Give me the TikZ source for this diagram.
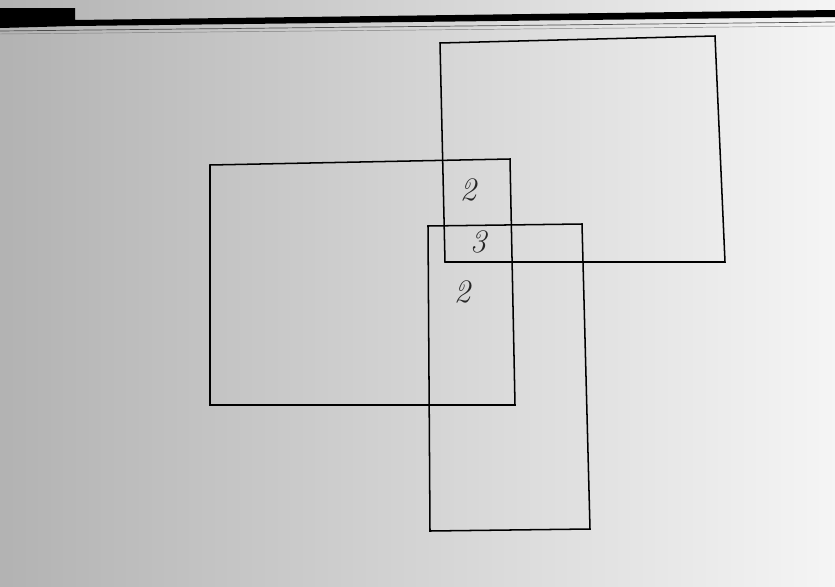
\documentclass[tikz,border=0pt]{standalone}
\usepackage{tikz}
\usetikzlibrary{positioning}

\begin{document}
\begin{tikzpicture}[
    x=0.03cm, y=-0.03cm,
    frame/.style={draw=black, line width=1.3pt, line join=miter},
    count/.style={font=\fontsize{28}{30}\selectfont\itshape, text=black!85},
]
  % scanned page background
  \useasboundingbox (0,0) rectangle (835,587);
  \shade[left color=gray!60, middle color=gray!16, right color=gray!8] (0,0) rectangle (835,587);

  % black bar along the top
  \fill[black] (0,8) -- (75,8) -- (75,20) -- (835,10) -- (835,17) -- (75,26) -- (0,28) -- cycle;
  \draw[black!70, line width=0.6pt] (0,31) -- (835,22);
  \draw[black!50, line width=0.4pt] (0,34) -- (835,26);

  % three overlapping rectangles
  \draw[frame] (440,43) -- (715,36) -- (725,262) -- (445,262) -- cycle;
  \draw[frame] (210,165) -- (510,159) -- (515,405) -- (210,405) -- cycle;
  \draw[frame] (428,226) -- (582,224) -- (590,529) -- (430,531) -- cycle;

  % overlap counts
  \node[count] (upper) at (468,190) {2};
  \node[count] (centre) at (478,242) {3};
  \node[count] (lower) at (462,292) {2};
\end{tikzpicture}
\end{document}
